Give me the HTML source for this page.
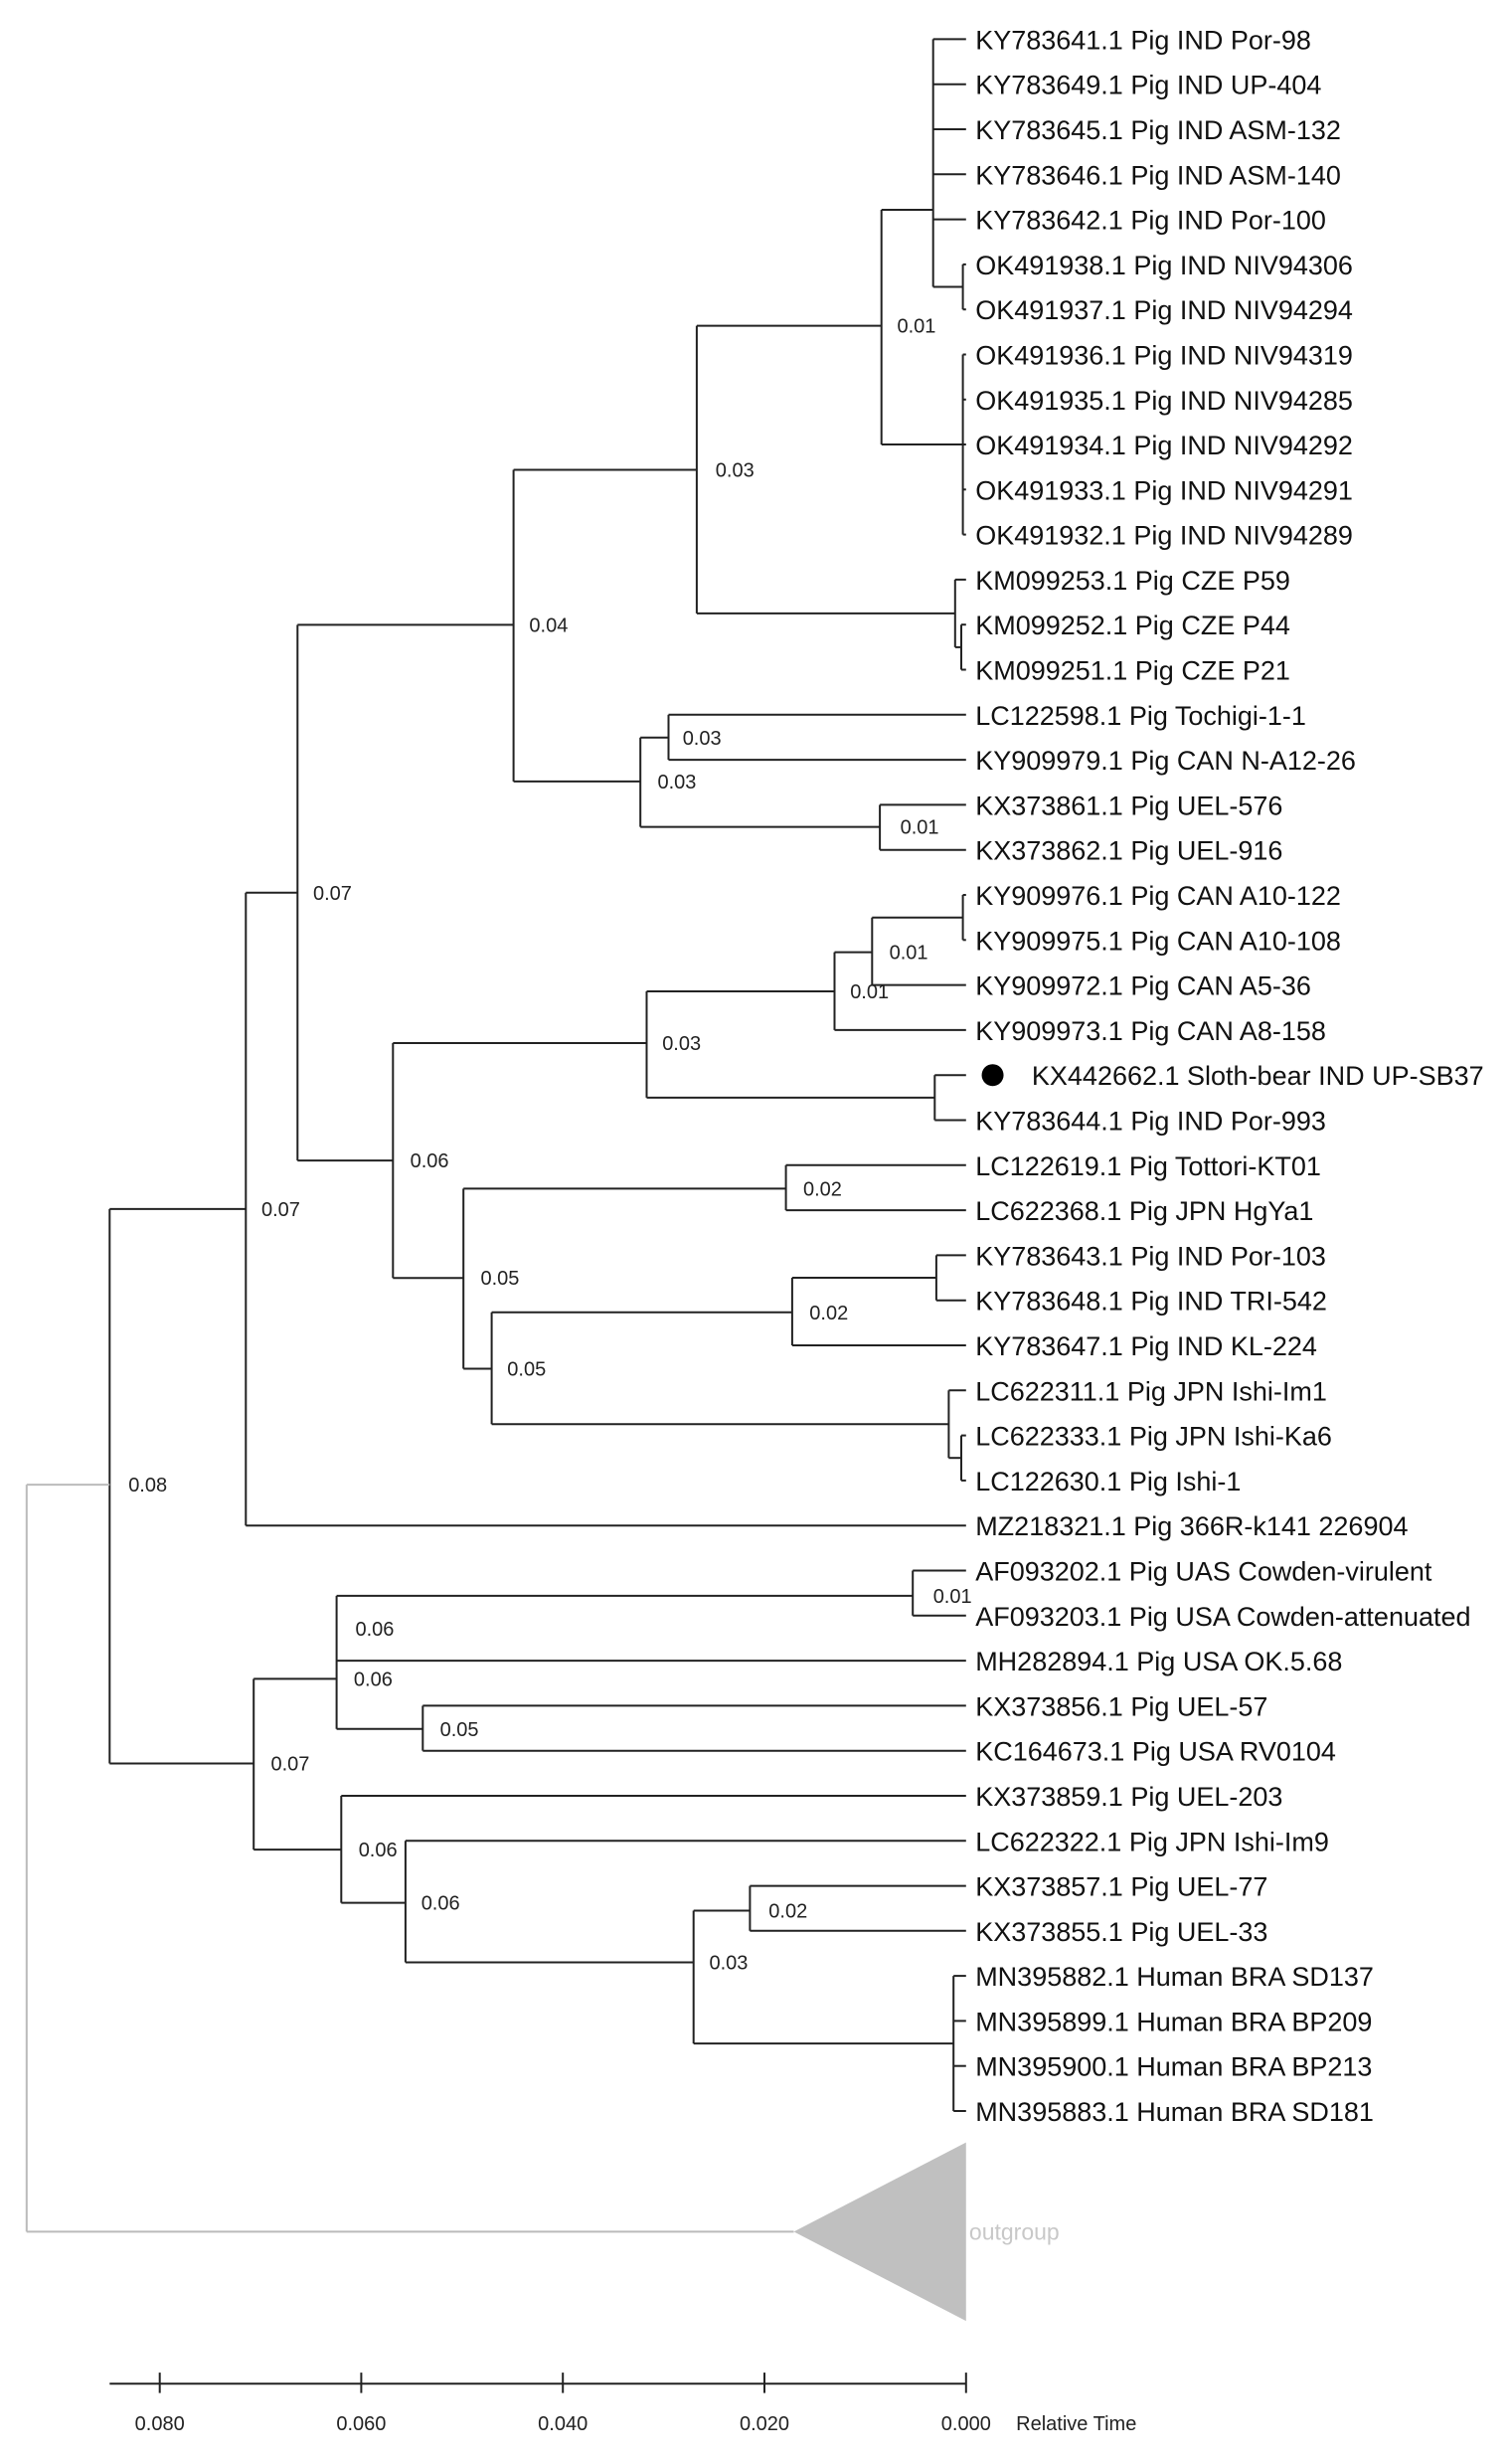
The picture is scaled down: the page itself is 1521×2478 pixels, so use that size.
<!DOCTYPE html>
<html><head><meta charset="utf-8"><style>
html,body{margin:0;padding:0;background:#fff;}
svg{display:block;}
text{font-family:"Liberation Sans",Arial,sans-serif;}
</style></head><body>
<svg id="s" width="1521" height="2478" viewBox="0 0 1521 2478" xmlns="http://www.w3.org/2000/svg"></svg>
<script>
var S=1.575, svg=document.getElementById('s'), out='';
var names=["KY783641.1 Pig IND Por-98","KY783649.1 Pig IND UP-404","KY783645.1 Pig IND ASM-132","KY783646.1 Pig IND ASM-140","KY783642.1 Pig IND Por-100","OK491938.1 Pig IND NIV94306","OK491937.1 Pig IND NIV94294","OK491936.1 Pig IND NIV94319","OK491935.1 Pig IND NIV94285","OK491934.1 Pig IND NIV94292","OK491933.1 Pig IND NIV94291","OK491932.1 Pig IND NIV94289","KM099253.1 Pig CZE P59","KM099252.1 Pig CZE P44","KM099251.1 Pig CZE P21","LC122598.1 Pig Tochigi-1-1","KY909979.1 Pig CAN N-A12-26","KX373861.1 Pig UEL-576","KX373862.1 Pig UEL-916","KY909976.1 Pig CAN A10-122","KY909975.1 Pig CAN A10-108","KY909972.1 Pig CAN A5-36","KY909973.1 Pig CAN A8-158","KX442662.1 Sloth-bear IND UP-SB37","KY783644.1 Pig IND Por-993","LC122619.1 Pig Tottori-KT01","LC622368.1 Pig JPN HgYa1","KY783643.1 Pig IND Por-103","KY783648.1 Pig IND TRI-542","KY783647.1 Pig IND KL-224","LC622311.1 Pig JPN Ishi-Im1","LC622333.1 Pig JPN Ishi-Ka6","LC122630.1 Pig Ishi-1","MZ218321.1 Pig 366R-k141 226904","AF093202.1 Pig UAS Cowden-virulent","AF093203.1 Pig USA Cowden-attenuated","MH282894.1 Pig USA OK.5.68","KX373856.1 Pig UEL-57","KC164673.1 Pig USA RV0104","KX373859.1 Pig UEL-203","LC622322.1 Pig JPN Ishi-Im9","KX373857.1 Pig UEL-77","KX373855.1 Pig UEL-33","MN395882.1 Human BRA SD137","MN395899.1 Human BRA BP209","MN395900.1 Human BRA BP213","MN395883.1 Human BRA SD181"];
function ly(i){return 25+28.76*i;}
function L(x1,y1,x2,y2,c){out+='<line x1="'+(x1*S).toFixed(1)+'" y1="'+(y1*S).toFixed(1)+'" x2="'+(x2*S).toFixed(1)+'" y2="'+(y2*S).toFixed(1)+'" stroke="'+(c||'#222')+'" stroke-width="2"/>';}
function N(x,ch,y){return {x:x,ch:ch,y:y};}
var TIP=617;
function draw(n){
  if(typeof n==='number'){return ly(n);}
  var ys=[],xs=[];
  for(var k=0;k<n.ch.length;k++){var c=n.ch[k];var y=draw(c);ys.push(y);xs.push(typeof c==='number'?TIP:c.x);}
  var my=(n.y!==undefined)?n.y:(Math.min.apply(null,ys)+Math.max.apply(null,ys))/2;
  var all=ys.concat([my]);
  var mn=Math.min.apply(null,all),mx=Math.max.apply(null,all);
  L(n.x,mn,n.x,mx);
  for(var k=0;k<ys.length;k++)L(n.x,ys[k],xs[k],ys[k]);
  return my;
}
var K=N(596,[0,1,2,3,4,N(615,[5,6])],134);
var M=N(615,[7,8,9,10,11]);
var I=N(563,[K,M],208);
var J=N(610,[12,N(614,[13,14])]);
var G=N(445,[I,J],300);
var H=N(409,[N(427,[15,16],471),N(562,[17,18],528)],499);
var E=N(328,[G,H],399);
var T=N(557,[N(615,[19,20]),21],608);
var R=N(533,[T,22],633);
var P=N(413,[R,N(597,[23,24])],666);
var X=N(506,[N(598,[27,28]),29],838);
var Y=N(606,[30,N(614,[31,32])]);
var W=N(314,[X,Y],874);
var Q=N(296,[N(502,[25,26],759),W],816);
var F=N(251,[P,Q],741);
var D=N(190,[E,F],570);
var B=N(157,[D,33],772);
var AA=N(215,[N(583,[34,35],1019),36,N(270,[37,38],1104)],1072);
var AF=N(443,[N(479,[41,42],1220),N(609,[43,44,45,46])],1253);
var AE=N(259,[40,AF],1215);
var AB=N(218,[39,AE],1181);
var C=N(162,[AA,AB],1126);
var A=N(70,[B,C],948);
var ay=draw(A);
L(17,ay,70,ay,'#bbb');L(17,ay,17,1425,'#bbb');L(17,1425,507,1425,'#bbb');
out+='<polygon points="'+[507*S,1425*S,617*S,1368*S,617*S,1482*S].join(',')+'" fill="#c0c0c0"/>';
out+='<text x="'+(619*S)+'" y="'+(1425*S+8)+'" font-size="23" fill="#c8c8c8">outgroup</text>';
for(var i=0;i<names.length;i++){
  var tx=623*S;
  if(i==23){out+='<circle cx="'+(634*S)+'" cy="'+(ly(i)*S)+'" r="11" fill="#000"/>';tx=659*S;}
  out+='<text x="'+tx.toFixed(1)+'" y="'+(ly(i)*S+10).toFixed(1)+'" font-size="27" fill="#111">'+names[i]+'</text>';
}
var labs=[[573,208,"0.01"],[457,300,"0.03"],[338,399,"0.04"],[436,471,"0.03"],[420,499,"0.03"],[575,528,"0.01"],[200,570,"0.07"],[568,608,"0.01"],[543,633,"0.01"],[423,666,"0.03"],[262,741,"0.06"],[167,772,"0.07"],[513,759,"0.02"],[307,816,"0.05"],[517,838,"0.02"],[324,874,"0.05"],[82,948,"0.08"],[596,1019,"0.01"],[227,1040,"0.06"],[226,1072,"0.06"],[281,1104,"0.05"],[173,1126,"0.07"],[229,1181,"0.06"],[269,1215,"0.06"],[491,1220,"0.02"],[453,1253,"0.03"]];
for(var i=0;i<labs.length;i++){out+='<text x="'+(labs[i][0]*S).toFixed(1)+'" y="'+(labs[i][1]*S+7).toFixed(1)+'" font-size="20" fill="#222">'+labs[i][2]+'</text>';}
L(70,1522,617,1522);
var tv=["0.080","0.060","0.040","0.020","0.000"];
for(var i=0;i<5;i++){var x=102+128.75*i;L(x,1515,x,1528);out+='<text x="'+(x*S).toFixed(1)+'" y="'+(1543*S+14).toFixed(1)+'" font-size="20" fill="#222" text-anchor="middle">'+tv[i]+'</text>';}
out+='<text x="'+(649*S)+'" y="'+(1543*S+14)+'" font-size="20" fill="#222">Relative Time</text>';
svg.innerHTML=out;
</script>
</body></html>
